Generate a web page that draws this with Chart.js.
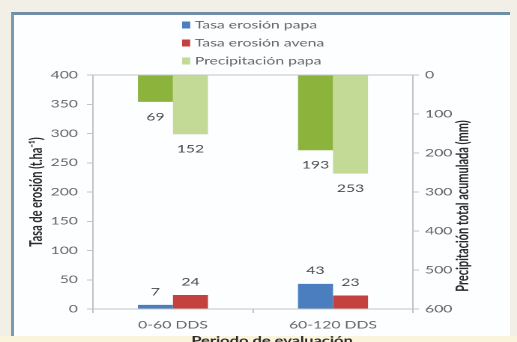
<!DOCTYPE html>
<html>
<head>
<meta charset="utf-8">
<script src="https://cdn.jsdelivr.net/npm/chart.js@4.4.0/dist/chart.umd.min.js"></script>
<style>
  html, body { margin: 0; padding: 0; }
  body { width: 517px; height: 342px; background: #f2efe6; position: relative; overflow: hidden; }
  .panel { position: absolute; left: 11px; top: 12px; width: 496px; height: 321px;
    background: #fcfeff; border-left: 3px solid #7d9ab3; border-top: 3px solid #6f8fa9; }
  .pie { position: absolute; left: 0; top: 336px; width: 517px; height: 6px; background: #fbf4dc; }
  /* the chart is drawn narrow and stretched sideways, like the slide it comes from */
  #wrap { position: absolute; left: 0; top: 0; width: 345px; height: 342px;
    transform: scaleX(1.4986); transform-origin: 0 0; }
</style>
</head>
<body>
<div class="panel"></div>
<div class="pie"></div>
<div id="wrap"><canvas id="erosionChart"></canvas></div>
<script>
// DATOS
const periodos = ["0-60 DDS", "60-120 DDS"];
const erosionPapa = [7, 43];
const erosionAvena = [24, 23];
const precipAvena = [69, 193];
const precipPapa = [152, 253];

const erosionMax = 400;
const erosionPaso = 50;
const precipMax = 600;
const precipPaso = 100;

const enLeyenda = ["Tasa erosión papa", "Tasa erosión avena", "Precipitación papa"];

const colorEje = "#c4c4c4";
const colorTexto = "#666666";
const fuente = "Lato";

// valores escritos bajo / sobre cada barra
const etiquetas = {
  id: "etiquetas",
  afterDatasetsDraw(chart) {
    const { ctx } = chart;
    ctx.save();
    ctx.font = `10.5px ${fuente}`;
    ctx.fillStyle = "#4a4a4a";
    ctx.textAlign = "center";
    ctx.textBaseline = "middle";
    chart.data.datasets.forEach((ds, i) => {
      const abajo = ds.yAxisID === "y2";
      chart.getDatasetMeta(i).data.forEach((bar, j) => {
        ctx.fillText(ds.data[j], bar.x, abajo ? bar.y + 15 : bar.y - 13);
      });
    });
    ctx.restore();
  },
};

// leyenda en columna y títulos del eje derecho e inferior
const extras = {
  id: "extras",
  afterDraw(chart) {
    const { ctx } = chart;
    ctx.save();
    ctx.textBaseline = "middle";
    ctx.textAlign = "left";
    ctx.font = `10.5px ${fuente}`;
    const items = chart.data.datasets.filter((ds) => enLeyenda.includes(ds.label));
    items.forEach((ds, i) => {
      const y = 25 + i * 18;
      ctx.fillStyle = ds.backgroundColor;
      ctx.fillRect(121.5, y - 3.5, 5.4, 7);
      ctx.fillStyle = colorTexto;
      ctx.fillText(ds.label, 130, y);
    });

    ctx.fillStyle = "#2a2a2a";
    ctx.font = `bold 11px ${fuente}`;
    ctx.textAlign = "center";
    ctx.save();
    ctx.translate(309, 206);
    ctx.rotate(-Math.PI / 2);
    ctx.fillText("Precipitación total acumulada (mm)", 0, 0);
    ctx.restore();

    ctx.fillText("Periodo de evaluación", 181.5, 341);
    ctx.restore();
  },
};

const data = {
  labels: periodos,
  datasets: [
    {
      label: "Tasa erosión papa",
      data: erosionPapa,
      backgroundColor: "#4a7ebf",
      yAxisID: "y",
      stack: "izq",
    },
    {
      label: "Tasa erosión avena",
      data: erosionAvena,
      backgroundColor: "#c4413f",
      yAxisID: "y",
      stack: "der",
    },
    {
      label: "Precipitación avena",
      data: precipAvena,
      backgroundColor: "#8cb43c",
      yAxisID: "y2",
      stack: "izq",
    },
    {
      label: "Precipitación papa",
      data: precipPapa,
      backgroundColor: "#c3da97",
      yAxisID: "y2",
      stack: "der",
    },
  ],
};

const tickFont = { family: fuente, size: 10.5 };

const options = {
  responsive: true,
  maintainAspectRatio: false,
  animation: false,
  devicePixelRatio: 2,
  datasets: { bar: { barPercentage: 1, categoryPercentage: 0.4375 } },
  layout: { padding: { top: 75, left: 0, right: 0, bottom: 0 } },
  plugins: {
    legend: { display: false },
    tooltip: { enabled: false },
  },
  scales: {
    x: {
      type: "category",
      offset: true,
      grid: { offset: true, drawOnChartArea: false, tickLength: 4, color: colorEje },
      border: { color: colorEje },
      ticks: { font: tickFont, color: colorTexto, padding: 6 },
      afterFit: (s) => { s.height = 33; },
    },
    xTop: {
      type: "category",
      position: "top",
      offset: true,
      grid: { display: false },
      ticks: { display: false },
      border: { color: colorEje },
      afterFit: (s) => { s.height = 0; },
    },
    y: {
      type: "linear",
      position: "left",
      min: 0,
      max: erosionMax,
      ticks: { stepSize: erosionPaso, font: tickFont, color: colorTexto, padding: 6 },
      grid: { drawOnChartArea: false, tickLength: 4, color: colorEje },
      border: { color: colorEje },
      title: {
        display: true,
        text: "Tasa de erosión (t.ha⁻¹)",
        color: "#2a2a2a",
        font: { family: fuente, size: 11, weight: "bold" },
        padding: { top: 18, bottom: 0 },
      },
      afterFit: (s) => { s.width = 62; },
    },
    y2: {
      type: "linear",
      position: "right",
      reverse: true,
      min: 0,
      max: precipMax,
      ticks: { stepSize: precipPaso, font: tickFont, color: colorTexto, padding: 4 },
      grid: { drawOnChartArea: false, tickLength: 4, color: colorEje },
      border: { color: colorEje },
      afterFit: (s) => { s.width = 69.4; },
    },
  },
};

new Chart("erosionChart", { type: "bar", data, options, plugins: [etiquetas, extras] });
</script>
</body>
</html>
